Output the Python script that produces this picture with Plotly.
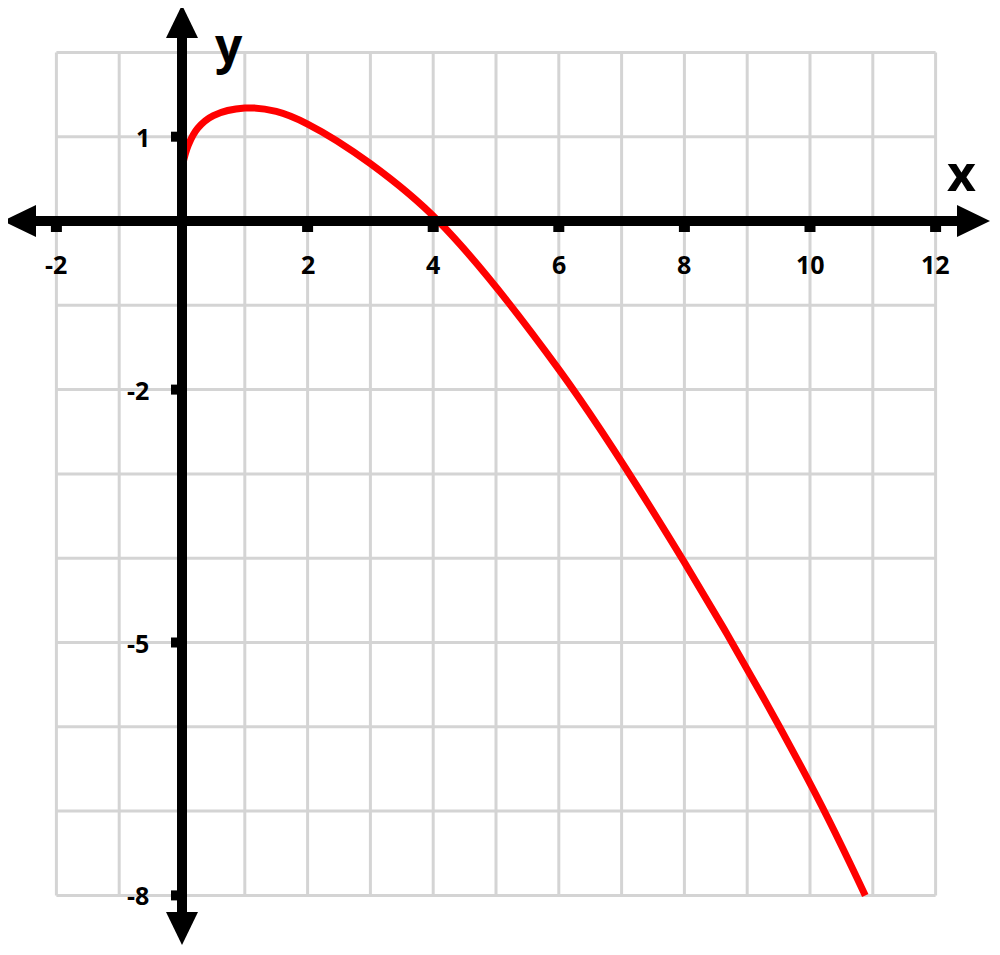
import plotly.graph_objects as go

# curve
curve_x = [0, 0.1, 0.25, 0.5, 1.0, 1.5, 2.0, 3.0, 4.08, 6.0, 8.0, 10.0, 10.88]
curve_y = [0.64, 0.9, 1.1, 1.25, 1.34, 1.3, 1.15, 0.68, 0.0, -1.76, -4.05, -6.67, -8.0]

x_ticks = [-2, 2, 4, 6, 8, 10, 12]
y_ticks = [1, -2, -5, -8]
grid_x = list(range(-2, 13))
grid_y = list(range(-8, 3))

# page pixel <-> data (x=0 at 182 px, y=0 at 221 px); the div sits 8 px in
W, H, OFF = 984, 939, 8
UX, UY = 62.8, 84.3
x_range = [(OFF - 182) / UX, (OFF + W - 182) / UX]
y_range = [(221 - OFF - H) / UY, (221 - OFF) / UY]
px_x = 1 / UX
px_y = 1 / UY

fig = go.Figure()

shapes = []
for gx in grid_x:
    shapes.append(dict(type='line', x0=gx, x1=gx, y0=grid_y[0], y1=grid_y[-1],
                       line=dict(color='#d4d4d4', width=3), layer='below'))
for gy in grid_y:
    shapes.append(dict(type='line', y0=gy, y1=gy, x0=grid_x[0], x1=grid_x[-1],
                       line=dict(color='#d4d4d4', width=3), layer='below'))

# axes with arrow heads
lx, rx = (3 - 182) * px_x, (990 - 182) * px_x
ty, by = (221 - 5) * px_y, (221 - 945) * px_y
shapes.append(dict(type='line', x0=lx + 20 * px_x, x1=rx - 20 * px_x, y0=0, y1=0,
                   line=dict(color='black', width=10)))
shapes.append(dict(type='line', x0=0, x1=0, y0=by + 20 * px_y, y1=ty - 20 * px_y,
                   line=dict(color='black', width=10)))


def tri(p):
    return 'M ' + ' L '.join(f'{a},{b}' for a, b in p) + ' Z'


head, half = 33, 16
shapes.append(dict(type='path', path=tri([(lx, 0), (lx + head * px_x, half * px_y), (lx + head * px_x, -half * px_y)]),
                   fillcolor='black', line=dict(width=0)))
shapes.append(dict(type='path', path=tri([(rx, 0), (rx - head * px_x, half * px_y), (rx - head * px_x, -half * px_y)]),
                   fillcolor='black', line=dict(width=0)))
shapes.append(dict(type='path', path=tri([(0, ty), (half * px_x, ty - head * px_y), (-half * px_x, ty - head * px_y)]),
                   fillcolor='black', line=dict(width=0)))
shapes.append(dict(type='path', path=tri([(0, by), (half * px_x, by + head * px_y), (-half * px_x, by + head * px_y)]),
                   fillcolor='black', line=dict(width=0)))

# little tick squares
for t in x_ticks:
    shapes.append(dict(type='rect', x0=t - 5.5 * px_x, x1=t + 5.5 * px_x, y0=0, y1=-11 * px_y,
                       fillcolor='black', line=dict(width=0)))
for t in y_ticks:
    shapes.append(dict(type='rect', y0=t - 5 * px_y, y1=t + 5 * px_y, x0=0, x1=-11 * px_x,
                       fillcolor='black', line=dict(width=0)))

fig.add_trace(go.Scatter(x=curve_x, y=curve_y, mode='lines',
                         line=dict(color='#ff0000', width=7, shape='spline', smoothing=1.0),
                         hoverinfo='skip'))

font = dict(family='Open Sans', size=25, color='black')
annotations = []
for t in x_ticks:
    annotations.append(dict(x=t, y=-43 * px_y, text=f'<b>{t}</b>', showarrow=False, font=font))
for t in y_ticks:
    annotations.append(dict(x=(152 - 182) * px_x if t > 0 else (151 - 182) * px_x, y=t,
                            text=f'<b>{t}</b>', showarrow=False, font=font, xanchor='right'))
annotations.append(dict(x=(229 - 182) * px_x, y=(221 - 44) * px_y, text='<b>y</b>', showarrow=False,
                        font=dict(family='Open Sans', size=48, color='black')))
annotations.append(dict(x=(961 - 182) * px_x, y=(221 - 172) * px_y, text='<b>x</b>', showarrow=False,
                        font=dict(family='Open Sans', size=50, color='black')))

fig.update_layout(
    width=W, height=H,
    margin=dict(l=0, r=0, t=0, b=0),
    plot_bgcolor='white', paper_bgcolor='white',
    showlegend=False,
    xaxis=dict(range=x_range, visible=False, fixedrange=True),
    yaxis=dict(range=y_range, visible=False, fixedrange=True),
    shapes=shapes,
    annotations=annotations,
)

fig.write_html("out.html")
